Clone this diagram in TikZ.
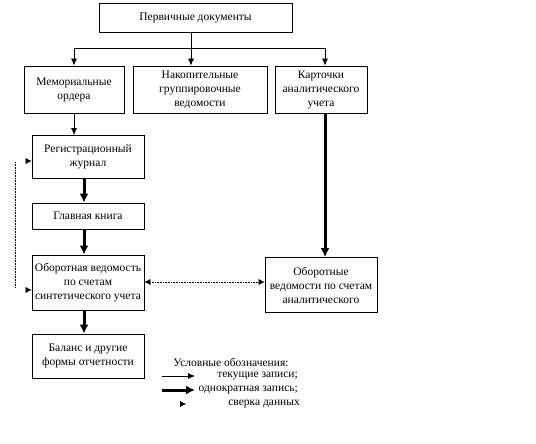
\documentclass[tikz,border=0pt]{standalone}
\usepackage{fontspec}
\setmainfont{Liberation Serif}
\usetikzlibrary{arrows.meta}

\begin{document}
\begin{tikzpicture}[x=1pt,y=-1pt]

\tikzset{box/.style = {draw, line width=0.8pt, inner sep=1pt, align=center,
  font=\fontsize{11.5}{14}\selectfont}}
\tikzset{arc/.style = {line width=0.8pt, -{Latex[length=7pt,width=6pt]}}}
\tikzset{thick arc/.style = {line width=3pt, -{Latex[length=9pt,width=9pt]}}}
\tikzset{tip/.style = {-{Latex[length=6pt,width=6pt]}}}
\tikzset{dots/.style = {densely dotted, line width=0.6pt}}
\tikzset{legend/.style = {font=\fontsize{11.5}{14}\selectfont, inner sep=0pt}}

\useasboundingbox (0,0) rectangle (536,444);

% boxes
\node[box, minimum width=193pt, minimum height=29pt] (doc) at (195.5,17.5) {Первичные документы};
\node[box, minimum width=100pt, minimum height=47pt] (mem) at (74,89.5) {Мемориальные\\ордера};
\node[box, minimum width=134pt, minimum height=47pt] (nak) at (200,89.5) {Накопительные\\группировочные\\ведомости};
\node[box, minimum width=92pt, minimum height=47pt] (kart) at (321,89.5) {Карточки\\аналитического\\учета};
\node[box, minimum width=112pt, minimum height=43pt] (reg) at (88,157) {Регистрационный\\журнал};
\node[box, minimum width=112pt, minimum height=26pt] (gk) at (88,216) {Главная книга};
\node[box, minimum width=112pt, minimum height=55pt] (obs) at (88,282.5) {Оборотная ведомость\\по счетам\\синтетического учета};
\node[box, minimum width=112pt, minimum height=44pt] (bal) at (88,356) {Баланс и другие\\формы отчетности};
\node[box, minimum width=112pt, minimum height=55pt] (oba) at (321,285) {Оборотные\\ведомости по счетам\\аналитического};

% current entries
\draw[line width=0.8pt] ([xshift=-4.5pt]doc.south) -- ++(0,16.5) coordinate (br);
\draw[arc] (br) -| (mem.north);
\draw[arc] (br) -- (br |- nak.north);
\draw[arc] (br) -| ([xshift=4pt]kart.north);
\draw[arc] (mem.south) -- (mem.south |- reg.north);

% single entries
\draw[thick arc] ([xshift=-4pt]reg.south) -- ([xshift=-4pt]gk.north);
\draw[thick arc] ([xshift=-4pt]gk.south) -- ([xshift=-4pt]obs.north);
\draw[thick arc] ([xshift=-4pt]obs.south) -- ([xshift=-4pt]bal.north);
\draw[thick arc] ([xshift=4pt]kart.south) -- ([xshift=4pt]oba.north);

% data check
\coordinate (d1) at (15,162);
\coordinate (d2) at (15,288);
\draw[dots] (d1) -- (d2);
\draw[tip] ([xshift=-6pt,yshift=-4pt]reg.west) -- ([yshift=-4pt]reg.west);
\draw[tip] ([xshift=-6pt,yshift=-7.5pt]obs.west) -- ([yshift=-7.5pt]obs.west);
\draw[dots, {Latex[length=6pt,width=6pt]}-{Latex[length=6pt,width=6pt]}] (obs.east |- 0,282) -- (oba.west |- 0,282);

% legend
\node[legend] (lg) at (231,362) {Условные обозначения:};
\coordinate (l1a) at (162,376);
\coordinate (l1b) at (195,376);
\coordinate (l2a) at (162,390);
\coordinate (l2b) at (195,390);
\coordinate (l3a) at (180,404);
\coordinate (l3b) at (186,404);
\draw[arc] (l1a) -- (l1b);
\draw[thick arc] (l2a) -- (l2b);
\draw[tip] (l3a) -- (l3b);
\node[legend, anchor=east] (t1) at (298,376) {текущие записи;};
\node[legend, anchor=east] (t2) at (298,390) {однократная запись;};
\node[legend, anchor=east] (t3) at (300,404) {сверка данных};

\end{tikzpicture}
\end{document}
